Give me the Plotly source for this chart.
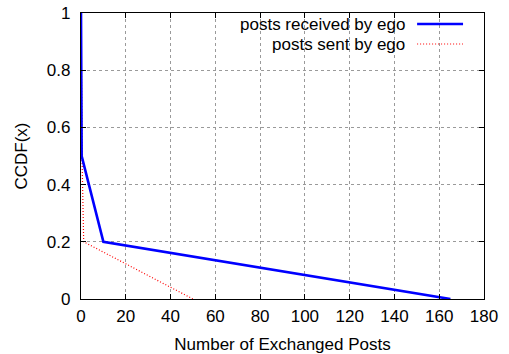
import plotly.graph_objects as go

# Data
recv_x = [0, 0.3, 10, 165]
recv_y = [1.0, 0.5, 0.2, 0.0]
sent_x = [0, 0.5, 1.2, 50]
sent_y = [1.0, 0.48, 0.2, 0.0]
x_ticks = [0, 20, 40, 60, 80, 100, 120, 140, 160, 180]
y_ticks = [0, 0.2, 0.4, 0.6, 0.8, 1]
y_tick_labels = ["0", "0.2", "0.4", "0.6", "0.8", "1"]
series_names = ["posts received by ego", "posts sent by ego"]

FONT = "Liberation Sans, Arial, sans-serif"
FS = 17

fig = go.Figure()
fig.add_trace(go.Scatter(x=sent_x, y=sent_y, mode="lines", name=series_names[1],
                         line=dict(color="#ff0000", width=1.2, dash="1px,2px"), showlegend=False))
fig.add_trace(go.Scatter(x=recv_x, y=recv_y, mode="lines", name=series_names[0],
                         line=dict(color="#0000ff", width=2.6), showlegend=False))

# manual gnuplot-style legend (text right-aligned, sample on the right)
legend_rows = [(0.9615, series_names[0], dict(color="#0000ff", width=2.6)),
               (0.8916, series_names[1], dict(color="#ff0000", width=1.2, dash="1px,2px"))]
for yy, txt, ln in legend_rows:
    fig.add_annotation(x=0.806, y=yy, xref="paper", yref="paper", text=txt,
                       showarrow=False, xanchor="right", yanchor="middle", borderpad=0,
                       font=dict(family=FONT, size=FS, color="black"))
    fig.add_shape(type="line", xref="paper", yref="paper", x0=0.834, x1=0.948,
                  y0=yy, y1=yy, line=ln)

axis_common = dict(showline=True, mirror="ticks", linecolor="black", linewidth=1.3,
                   ticks="inside", ticklen=5, tickcolor="black", tickwidth=1,
                   showgrid=True, gridcolor="#9a9a9a", griddash="dot", gridwidth=1,
                   zeroline=False, automargin=False,
                   tickfont=dict(family=FONT, size=FS, color="black"))

fig.update_xaxes(range=[0, 180], tickvals=x_ticks, ticktext=[str(v) for v in x_ticks],
                 title=dict(text="Number of Exchanged Posts", font=dict(family=FONT, size=FS, color="black"),
                            standoff=14),
                 ticklabelstandoff=1, **axis_common)
fig.update_yaxes(range=[0, 1], tickvals=y_ticks, ticktext=y_tick_labels,
                 title=dict(text="CCDF(x)", font=dict(family=FONT, size=FS, color="black"), standoff=14),
                 ticklabelstandoff=6, **axis_common)

fig.update_layout(width=509, height=354, margin=dict(l=81, r=25, t=13, b=55),
                  plot_bgcolor="white", paper_bgcolor="white",
                  font=dict(family=FONT, size=FS, color="black"))

fig.write_html("out.html")
